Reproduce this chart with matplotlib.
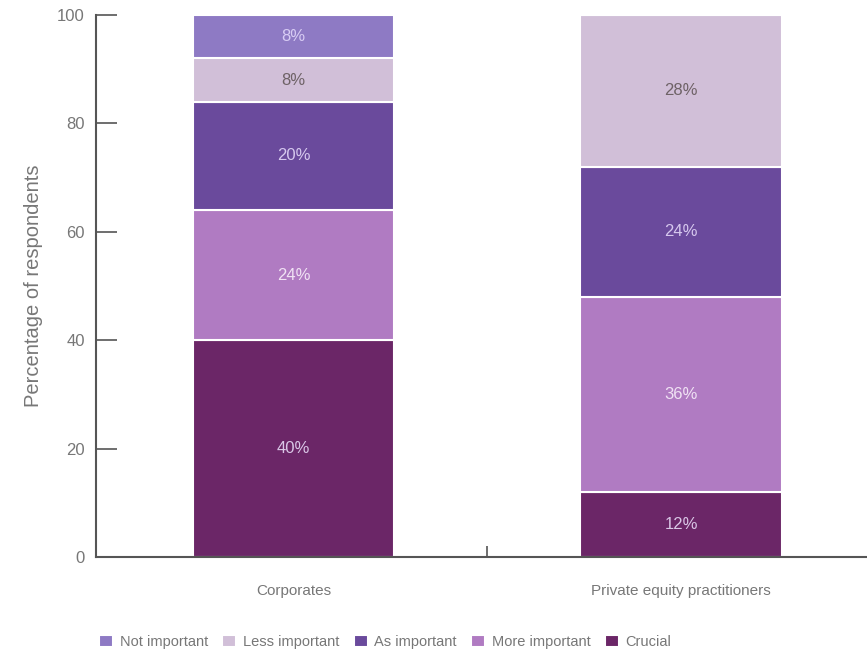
import matplotlib.pyplot as plt
import numpy as np

plt.rcParams["font.family"] = ["Liberation Sans", "DejaVu Sans"]

groups = ["Corporates", "Private equity practitioners"]
levels = ["Crucial", "More important", "As important", "Less important", "Not important"]
values = {
    "Crucial": [40, 12],
    "More important": [24, 36],
    "As important": [20, 24],
    "Less important": [8, 28],
    "Not important": [8, 0],
}
colors = {
    "Crucial": "#6b2667",
    "More important": "#b07bc2",
    "As important": "#6a4a9c",
    "Less important": "#d1bfd8",
    "Not important": "#8e7ac4",
}
label_colors = {
    "Crucial": "#d9c6e6",
    "More important": "#f0e2f4",
    "As important": "#d6c8ee",
    "Less important": "#6e6266",
    "Not important": "#d8ccf4",
}

fig = plt.figure(figsize=(8.67, 6.5), dpi=100)
ax = fig.add_axes([96 / 867, (650 - 557) / 650, (867 - 96) / 867, (557 - 15) / 650])

x = np.arange(len(groups))
bottom = np.zeros(len(groups))
for lev in levels:
    vals = np.array(values[lev], dtype=float)
    ax.bar(x, vals, 0.52, bottom=bottom, color=colors[lev], edgecolor="white",
           linewidth=1.5, label=lev)
    for xi, v, b in zip(x, vals, bottom):
        if v > 0:
            ax.text(xi, b + v / 2, f"{int(v)}%", ha="center", va="center",
                    fontsize=12, color=label_colors[lev])
    bottom += vals

ax.set_xlim(-0.51, 1.48)
ax.set_ylim(0, 100)
ax.set_yticks([0, 20, 40, 60, 80, 100])
ax.set_xticks([0.5])
ax.set_xticklabels([""])
ax.tick_params(axis="y", direction="in", length=15, width=1.2, color="#555555",
               labelcolor="#777777", labelsize=12, pad=8)
ax.tick_params(axis="x", direction="in", length=8, width=1.2, color="#555555")
for xi, g in zip(x, groups):
    ax.text(xi, -6.2, g, ha="center", va="center", fontsize=11, color="#777777")

for s in ["top", "right"]:
    ax.spines[s].set_visible(False)
for s in ["left", "bottom"]:
    ax.spines[s].set_color("#555555")
    ax.spines[s].set_linewidth(1.5)

ax.set_ylabel("Percentage of respondents", fontsize=14.5, color="#777777", labelpad=10)

handles, labels = ax.get_legend_handles_labels()
order = ["Not important", "Less important", "As important", "More important", "Crucial"]
hmap = dict(zip(labels, handles))
fig.legend([hmap[o] for o in order], order, loc="center left",
           bbox_to_anchor=(86 / 867, 1 - 642 / 650), ncol=5, frameon=False,
           fontsize=10.5, labelcolor="#777777", handlelength=0.95, handleheight=0.95,
           handletextpad=0.45, columnspacing=1.0)

plt.savefig("out.png", dpi=100)
